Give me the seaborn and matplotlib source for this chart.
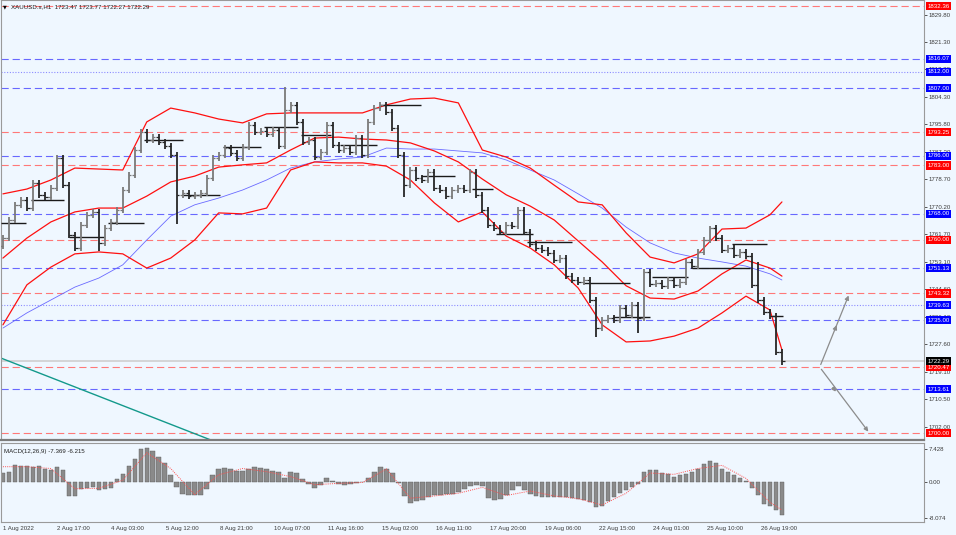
import numpy as np
import pandas as pd
import matplotlib
matplotlib.use("Agg")
import matplotlib.pyplot as plt
import matplotlib.transforms as mtransforms
import seaborn as sns

sns.set_style("white")
plt.rcParams['font.family'] = ['Liberation Sans', 'DejaVu Sans']

# price bars (closes, one every few hours), open = previous close
first_open = 1758.0
closes = [1760.5, 1766.1, 1770.7, 1772.3, 1769.8, 1777.6, 1773.9, 1773.2, 1776.0, 1785.3,
          1776.9, 1761.4, 1757.4, 1764.5, 1767.7, 1768.6, 1759.0, 1763.6, 1765.5, 1769.2,
          1775.4, 1780.1, 1787.8, 1793.4, 1790.9, 1791.8, 1790.3, 1789.0, 1786.2, 1773.9,
          1774.5, 1773.5, 1773.9, 1774.5, 1779.1, 1785.3, 1786.2, 1788.4, 1786.9, 1785.3,
          1788.7, 1795.5, 1793.4, 1793.7, 1792.8, 1794.0, 1789.0, 1800.2, 1801.8, 1796.5,
          1790.3, 1790.9, 1785.6, 1787.2, 1795.5, 1789.4, 1787.8, 1788.4, 1787.2, 1791.5,
          1786.2, 1796.5, 1800.8, 1801.8, 1799.6, 1794.6, 1786.2, 1776.9, 1781.6, 1779.1,
          1778.5, 1781.0, 1776.0, 1775.4, 1773.5, 1775.4, 1776.0, 1775.4, 1781.0, 1773.9,
          1769.2, 1764.5, 1763.6, 1762.4, 1764.5, 1764.2, 1769.2, 1762.4, 1758.7, 1757.4,
          1756.8, 1755.9, 1753.7, 1754.3, 1748.7, 1747.5, 1746.9, 1747.5, 1741.3, 1732.6,
          1735.1, 1735.7, 1735.1, 1738.8, 1736.7, 1739.8, 1735.7, 1750.0, 1746.3, 1746.6,
          1745.6, 1747.5, 1746.0, 1746.9, 1753.1, 1751.8, 1756.2, 1759.9, 1763.6, 1760.5,
          1756.8, 1757.4, 1755.2, 1756.2, 1754.9, 1746.0, 1741.3, 1737.6, 1736.3, 1725.2,
          1722.29]
spike_lows = {16: 1756.5, 29: 1765.0, 67: 1773.2, 99: 1729.9, 106: 1731.1}
spike_highs = {47: 1807.3, 118: 1764.2, 126: 1753.0}

# bollinger bands and blue moving average, sampled every 4 bars
band_bars = list(range(0, 129, 4)) + [130]
bb_upper = [1774.2, 1775.7, 1778.5, 1782.2, 1781.9, 1781.6, 1796.5, 1800.8, 1799.3, 1797.4,
            1796.2, 1799.0, 1799.3, 1799.3, 1799.3, 1799.3, 1801.8, 1803.6, 1803.9, 1802.4,
            1787.8, 1785.6, 1782.2, 1776.9, 1771.7, 1770.8, 1762.1, 1754.6, 1752.8, 1755.6,
            1763.3, 1763.6, 1767.7, 1771.7]
bb_mid = [1754.3, 1760.5, 1765.5, 1768.6, 1769.8, 1769.8, 1773.5, 1777.9, 1779.7, 1782.5,
          1783.2, 1783.8, 1787.8, 1791.5, 1791.8, 1791.2, 1790.9, 1790.0, 1787.5, 1784.1,
          1778.8, 1773.9, 1770.4, 1766.1, 1759.6, 1753.1, 1745.7, 1741.9, 1741.6, 1744.1,
          1749.4, 1753.7, 1751.2, 1748.7]
bb_lower = [1733.6, 1746.0, 1751.5, 1755.6, 1756.2, 1755.6, 1751.2, 1754.3, 1759.9, 1768.3,
            1768.0, 1769.8, 1781.6, 1784.1, 1783.8, 1783.8, 1782.8, 1778.5, 1771.4, 1765.5,
            1768.6, 1761.1, 1757.4, 1752.2, 1745.0, 1733.6, 1728.3, 1728.6, 1730.1, 1732.6,
            1737.3, 1742.5, 1738.2, 1725.8]
ma_blue = [1732.6, 1737.3, 1741.3, 1745.3, 1748.1, 1752.2, 1759.9, 1767.3, 1770.8, 1772.9,
           1775.4, 1778.5, 1782.2, 1784.1, 1785.0, 1785.6, 1788.4, 1788.1, 1788.1, 1787.5,
           1786.9, 1784.7, 1781.6, 1778.5, 1774.2, 1769.8, 1763.9, 1759.0, 1755.9, 1754.3,
           1753.1, 1751.8, 1749.4, 1747.5]

# short black level segments
seg_start = [-0.3, 4.7, 11.0, 17.5, 23.5, 30.0, 36.8, 43.5, 49.7, 56.3, 63.0, 69.7, 78.3,
             82.2, 87.5, 96.8, 101.8, 108.3, 115.0, 121.7, 128.3]
seg_end = [3.8, 10.2, 16.8, 23.5, 30.0, 36.3, 43.0, 49.2, 54.7, 62.5, 69.7, 75.5, 81.8,
           88.5, 95.0, 104.7, 108.0, 114.3, 124.7, 127.5, 130.2]
seg_price = [1765.2, 1772.3, 1760.8, 1765.2, 1790.9, 1773.9, 1788.7, 1794.9, 1792.4, 1789.4,
             1801.8, 1779.7, 1775.7, 1761.8, 1759.3, 1746.6, 1736.0, 1748.4, 1751.2, 1758.7,
             1736.3]

# horizontal levels
red_levels = [1832.36, 1793.25, 1783.00, 1760.00, 1743.32, 1720.47, 1700.00]
blue_levels = [1816.07, 1807.00, 1786.00, 1768.00, 1751.13, 1735.00, 1713.61]
dotted_levels = [1812.00, 1739.63]
last_price = 1722.29

price_ticks = [1829.80, 1821.30, 1812.80, 1804.30, 1795.80, 1787.30, 1778.70, 1770.20,
               1761.70, 1753.10, 1744.60, 1736.10, 1727.60, 1719.10, 1710.50, 1702.00]

# MACD histogram (per bar) and signal (sampled)
macd_hist = [2.0, 2.2, 3.8, 3.5, 3.6, 3.4, 3.5, 2.8, 2.7, 3.3,
             2.6, -3.0, -3.2, -1.6, -1.3, -1.2, -1.8, -1.6, -1.3, 0.6,
             1.8, 3.5, 5.2, 7.4, 7.5, 6.8, 5.6, 4.2, 1.6, -1.0,
             -2.7, -2.9, -2.9, -2.8, -1.5, 1.5, 3.0, 3.1, 3.0, 2.5,
             2.4, 2.9, 3.3, 3.2, 2.8, 2.4, 2.2, 0.9, 2.2, 2.0,
             0.6, -0.4, -1.3, -0.6, 0.8, 0.2, -0.4, -0.6, -0.5, -0.2,
             0.0, 1.0, 2.2, 3.3, 3.0, 2.0, -0.3, -3.0, -4.6, -4.3,
             -3.9, -3.3, -2.9, -2.8, -2.7, -2.6, -2.2, -1.6, -0.8, -0.7,
             -0.8, -3.6, -4.0, -3.7, -2.8, -1.8, -0.8, -1.8, -2.7, -3.1,
             -3.3, -3.3, -3.3, -3.3, -3.4, -3.6, -3.7, -4.0, -4.5, -5.6,
             -5.4, -4.2, -3.3, -2.5, -1.8, -1.1, -0.5, 2.2, 2.7, 2.6,
             2.0, 1.7, 1.2, 1.5, 1.8, 2.2, 3.0, 4.0, 4.7, 4.2,
             2.8, 2.2, 1.6, 0.8, 0.2, -1.4, -2.8, -4.8, -5.3, -6.2,
             -7.369]
macd_signal = [3.4, 3.4, 3.0, -1.5, -1.4, 0.4, 6.5, 3.0, -2.8, 1.6,
               3.0, 2.3, 1.2, -0.6, -0.3, -0.1, 2.9, -3.6, -3.1, -2.5,
               -1.2, -3.0, -2.0, -3.1, -3.7, -5.1, -2.5, 2.0, 1.7, 3.0,
               3.7, 0.8, -4.5, -6.215]

date_pos = [0, 9, 18.1, 27.2, 36.2, 45.2, 54.3, 63.3, 72.3, 81.3, 90.4, 99.4, 108.5, 117.5, 126.5]
date_labels = ['1 Aug 2022', '2 Aug 17:00', '4 Aug 03:00', '5 Aug 12:00', '8 Aug 21:00',
               '10 Aug 07:00', '11 Aug 16:00', '15 Aug 02:00', '16 Aug 11:00', '17 Aug 20:00',
               '19 Aug 06:00', '22 Aug 15:00', '24 Aug 01:00', '25 Aug 10:00', '26 Aug 19:00']

# build bar table
df = pd.DataFrame({'bar': np.arange(len(closes)), 'close': closes})
df['open'] = df['close'].shift(1).fillna(first_open)
df['high'] = df[['open', 'close']].max(axis=1) + 1.0
df['low'] = df[['open', 'close']].min(axis=1) - 1.0
for i, v in spike_lows.items():
    df.loc[i, 'low'] = v
for i, v in spike_highs.items():
    df.loc[i, 'high'] = v

bands = pd.DataFrame({'bar': band_bars, 'upper': bb_upper, 'mid': bb_mid,
                      'lower': bb_lower, 'ma': ma_blue, 'signal': macd_signal})

bg = '#eff7ff'
W, H = 956, 535
fig = plt.figure(figsize=(W / 100, H / 100), dpi=100, facecolor=bg)
ax = fig.add_axes([0.001, 95 / H, 923 / W, 440 / H], facecolor=bg)
axm = fig.add_axes([0.001, 13 / H, 923 / W, 79 / H], facecolor=bg, sharex=ax)

fs = 4.4
grey_txt = '#3c3c3c'

# levels
for p in red_levels:
    ax.axhline(p, color='#ff7878', lw=0.8, ls=(0, (6.5, 3.5)), zorder=1)
for p in blue_levels:
    ax.axhline(p, color='#6868ff', lw=0.8, ls=(0, (6.5, 3.5)), zorder=1)
for p in dotted_levels:
    ax.axhline(p, color='#8c8cff', lw=0.8, ls=(0, (1, 1.5)), zorder=1)
ax.axhline(last_price, color='#cfcfcf', lw=1.2, zorder=1)

# trend line and arrows
ax.plot([-0.33, 34.7], [1723.3, 1697.9], color='#13998b', lw=1.0, zorder=2)
arrow_kw = dict(arrowstyle='-|>', color='#8c8c8c', lw=0.9, mutation_scale=6)
ax.annotate('', xy=(141.3, 1743.5), xytext=(136.3, 1720.5), arrowprops=arrow_kw)
ax.annotate('', xy=(144.7, 1699.8), xytext=(136.3, 1720.5), arrowprops=arrow_kw)
ax.annotate('', xy=(139.3, 1734.3), xytext=(138.6, 1731.0), arrowprops=arrow_kw)
ax.annotate('', xy=(139.3, 1712.2), xytext=(138.2, 1714.8), arrowprops=arrow_kw)

# bands
sns.lineplot(data=bands, x='bar', y='ma', ax=ax, color='#6a6aff', lw=0.6, zorder=3)
for col in ['upper', 'mid', 'lower']:
    sns.lineplot(data=bands, x='bar', y=col, ax=ax, color='#ff1010', lw=0.9, zorder=3)

# segments
ax.hlines(seg_price, seg_start, seg_end, color='#1a1a1a', lw=1.0, zorder=4)

# bars
up = df['close'] >= df['open']
for mask, col in [(up, '#7a7a7a'), (~up, '#262626')]:
    d = df[mask]
    ax.vlines(d['bar'], d['low'], d['high'], color=col, lw=1.3, zorder=5)
    ax.hlines(d['open'], d['bar'] - 0.45, d['bar'], color=col, lw=0.9, zorder=5)
    ax.hlines(d['close'], d['bar'], d['bar'] + 0.45, color=col, lw=0.9, zorder=5)

ax.set_xlim(-0.33, 153.7)
ax.set_ylim(1834.3 - 0.31 * 440, 1834.3)
ax.set_xlabel('')
ax.set_ylabel('')
ax.yaxis.tick_right()
ax.set_yticks(price_ticks)
ax.set_yticklabels(['%.2f' % p for p in price_ticks])
ax.tick_params(axis='y', labelsize=fs, colors=grey_txt, length=2, width=0.6, pad=1.5)
ax.tick_params(axis='x', bottom=False, labelbottom=False)
for s in ax.spines.values():
    s.set_color('#9a9a9a')
    s.set_linewidth(0.8)
ax.spines['bottom'].set_linewidth(1.6)
ax.spines['bottom'].set_color('#7c7c7c')

# coloured price labels on the axis
trans = mtransforms.blended_transform_factory(ax.transAxes, ax.transData)
boxes = [(p, '#ff0000') for p in red_levels] + [(p, '#0000ff') for p in blue_levels] + \
        [(p, '#0000ff') for p in dotted_levels] + [(last_price, '#000000')]
for p, c in boxes:
    ax.text(1.0035, p, '%.2f' % p, transform=trans, ha='left', va='center', fontsize=fs,
            color='white', zorder=20, clip_on=False,
            bbox=dict(boxstyle='square,pad=0.25', fc=c, ec='none'))

fig.text(3 / W, 1 - 6.5 / H, '\u25bc', fontsize=3.5, color='black', va='center',
         family=['DejaVu Sans'])
fig.text(11 / W, 1 - 6.5 / H, 'XAUUSD.s,H1  1723.47 1723.77 1722.27 1722.29', fontsize=fs,
         color='#202020', va='center')

# MACD panel
axm.bar(df['bar'], macd_hist, width=0.75, color='#8a8a8a', edgecolor='#5a5a5a',
        linewidth=0.3, zorder=2)
sns.lineplot(data=bands, x='bar', y='signal', ax=axm, color='#ff5050', lw=0.7,
             ls=(0, (1, 1.2)), zorder=3)
axm.set_ylim(-8.89, 8.67)
axm.set_xlabel('')
axm.set_ylabel('')
axm.yaxis.tick_right()
axm.set_yticks([7.428, 0.0, -8.074])
axm.set_yticklabels(['7.428', '0.00', '-8.074'])
axm.tick_params(axis='y', labelsize=fs, colors=grey_txt, length=2, width=0.6, pad=1.5)
axm.set_xticks(date_pos)
axm.set_xticklabels(date_labels, ha='left')
axm.tick_params(axis='x', labelsize=fs, colors=grey_txt, length=2, width=0.6, pad=1)
for s in axm.spines.values():
    s.set_color('#9a9a9a')
    s.set_linewidth(0.8)
axm.text(0.003, 0.93, 'MACD(12,26,9) -7.369 -6.215', transform=axm.transAxes, fontsize=fs,
         color='#202020', va='top')

fig.savefig('out.png', dpi=100, facecolor=bg)
